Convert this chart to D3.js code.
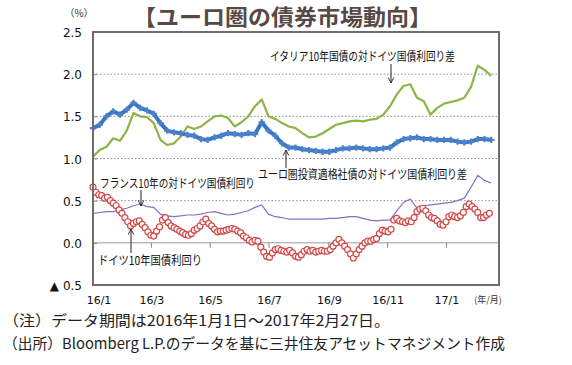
<!DOCTYPE html>
<html>
<head>
<meta charset="utf-8">
<script src="https://cdn.jsdelivr.net/npm/d3@7"></script>
<style>
  body { margin: 0; background: #fff; }
  svg { display: block; font-family: "Noto Sans CJK JP", "Noto Sans", sans-serif; }
</style>
</head>
<body>
<svg class="chart"></svg>
<script>
var dates = [
  '2016-01-01', '2016-01-08', '2016-01-15', '2016-01-22', '2016-01-29',
  '2016-02-05', '2016-02-12', '2016-02-19', '2016-02-26', '2016-03-04',
  '2016-03-11', '2016-03-18', '2016-03-25', '2016-04-01', '2016-04-08',
  '2016-04-15', '2016-04-22', '2016-04-29', '2016-05-06', '2016-05-13',
  '2016-05-20', '2016-05-27', '2016-06-03', '2016-06-10', '2016-06-17',
  '2016-06-24', '2016-07-01', '2016-07-08', '2016-07-15', '2016-07-22',
  '2016-07-29', '2016-08-05', '2016-08-12', '2016-08-19', '2016-08-26',
  '2016-09-02', '2016-09-09', '2016-09-16', '2016-09-23', '2016-09-30',
  '2016-10-07', '2016-10-14', '2016-10-21', '2016-10-28', '2016-11-04',
  '2016-11-11', '2016-11-18', '2016-11-25', '2016-12-02', '2016-12-09',
  '2016-12-16', '2016-12-23', '2016-12-30', '2017-01-06', '2017-01-13',
  '2017-01-20', '2017-01-27', '2017-02-03', '2017-02-10', '2017-02-17'
];

var italySpread = [
  1.02, 1.10, 1.14, 1.24, 1.21, 1.33, 1.54, 1.50, 1.49, 1.42,
  1.22, 1.16, 1.18, 1.26, 1.38, 1.35, 1.38, 1.44, 1.50, 1.51,
  1.48, 1.38, 1.43, 1.50, 1.62, 1.70, 1.50, 1.47, 1.42, 1.38,
  1.36, 1.30, 1.25, 1.26, 1.30, 1.35, 1.40, 1.42, 1.44, 1.45,
  1.44, 1.46, 1.47, 1.52, 1.62, 1.76, 1.86, 1.88, 1.72, 1.68,
  1.52, 1.60, 1.65, 1.67, 1.69, 1.72, 1.85, 2.10, 2.05, 1.98
];

var corpSpread = [
  1.36, 1.40, 1.50, 1.56, 1.52, 1.58, 1.66, 1.60, 1.57, 1.53,
  1.42, 1.33, 1.31, 1.30, 1.28, 1.27, 1.23, 1.22, 1.25, 1.27,
  1.30, 1.29, 1.28, 1.30, 1.29, 1.43, 1.33, 1.27, 1.18, 1.13,
  1.13, 1.11, 1.10, 1.09, 1.08, 1.08, 1.10, 1.12, 1.12, 1.13,
  1.12, 1.11, 1.11, 1.12, 1.13, 1.19, 1.23, 1.24, 1.25, 1.23,
  1.23, 1.22, 1.22, 1.22, 1.20, 1.19, 1.20, 1.23, 1.23, 1.22
];

var franceSpread = [
  0.35, 0.36, 0.37, 0.37, 0.39, 0.41, 0.44, 0.46, 0.43, 0.42,
  0.34, 0.32, 0.31, 0.32, 0.33, 0.33, 0.34, 0.36, 0.37, 0.35,
  0.33, 0.34, 0.36, 0.38, 0.42, 0.45, 0.34, 0.31, 0.30, 0.28,
  0.28, 0.28, 0.28, 0.28, 0.28, 0.29, 0.29, 0.30, 0.31, 0.31,
  0.29, 0.27, 0.26, 0.27, 0.27, 0.38, 0.48, 0.52, 0.41, 0.44,
  0.45, 0.46, 0.47, 0.48, 0.50, 0.53, 0.66, 0.80, 0.74, 0.71
];

// German 10y yield, sampled every 3 days from 2016-01-01
var bundYield = [
  0.66, 0.60, 0.57, 0.56, 0.53, 0.54, 0.50, 0.47, 0.44, 0.39,
  0.35, 0.30, 0.25, 0.20, 0.23, 0.25, 0.26, 0.22, 0.18, 0.13,
  0.09, 0.08, 0.14, 0.19, 0.27, 0.30, 0.24, 0.20, 0.18, 0.16,
  0.14, 0.12, 0.10, 0.09, 0.11, 0.15, 0.17, 0.20, 0.25, 0.28,
  0.23, 0.20, 0.16, 0.13, 0.14, 0.14, 0.15, 0.16, 0.17, 0.16,
  0.14, 0.12, 0.08, 0.06, 0.03, 0.01, 0.03, 0.02, -0.05, -0.11,
  -0.16, -0.17, -0.12, -0.08, -0.07, -0.09, -0.10, -0.11, -0.09, -0.12,
  -0.16, -0.17, -0.14, -0.10, -0.08, -0.10, -0.09, -0.11, -0.10, -0.09,
  -0.10, -0.10, -0.08, -0.04, 0.00, 0.04, 0.00, -0.04, -0.08, -0.13,
  -0.18, -0.13, -0.08, -0.04, 0.00, 0.02, 0.02, 0.04, 0.05, 0.11,
  0.15, 0.14, 0.13, 0.16, 0.27, 0.29, 0.26, 0.25, 0.24, 0.26,
  0.25, 0.30, 0.37, 0.40, 0.41, 0.38, 0.33, 0.30, 0.29, 0.26,
  0.22, 0.21, 0.25, 0.31, 0.33, 0.31, 0.30, 0.32, 0.36, 0.43,
  0.46, 0.43, 0.40, 0.36, 0.30, 0.30, 0.33, 0.35
];

var yTicks = [-0.5, 0, 0.5, 1.0, 1.5, 2.0, 2.5];
var xTickDates = ['2016-01-01', '2016-03-01', '2016-05-01', '2016-07-01',
                  '2016-09-01', '2016-11-01', '2017-01-01'];
var xTickLabels = ['16/1', '16/3', '16/5', '16/7', '16/9', '16/11', '17/1'];

var width = 572;
var height = 365;
var plot = {left: 93, right: 499, top: 32, bottom: 285};

var parse = d3.timeParse('%Y-%m-%d');
var start = parse('2016-01-01');

var x = d3.scaleTime()
    .domain([start, parse('2017-02-25')])
    .range([plot.left, plot.right]);
var y = d3.scaleLinear().domain([-0.5, 2.5]).range([plot.bottom, plot.top]);

var svg = d3.select('.chart').attr('width', width).attr('height', height);

// title
svg.append('text')
    .attr('x', 133)
    .attr('y', 25)
    .attr('textLength', 299)
    .attr('lengthAdjust', 'spacingAndGlyphs')
    .style('font-size', '22px')
    .style('font-weight', 'bold')
    .style('fill', '#574944')
    .text('【ユーロ圏の債券市場動向】');

svg.append('text')
    .attr('x', 79)
    .attr('y', 17)
    .attr('text-anchor', 'middle')
    .style('font-size', '10px')
    .style('fill', '#333')
    .text('（%）');

// gridlines
svg.append('g')
    .selectAll('line')
    .data(yTicks.filter(d => d > -0.5 && d < 2.5))
    .join('line')
    .attr('x1', plot.left)
    .attr('x2', plot.right)
    .attr('y1', d => y(d))
    .attr('y2', d => y(d))
    .style('stroke', d => d === 0 ? '#9a9a9a' : '#8c8c8c')
    .style('stroke-width', 1)
    .style('stroke-dasharray', d => d === 0 ? null : '1.5,2');

// y axis
var yAxis = d3.axisRight(y)
    .tickValues(yTicks)
    .tickSize(4)
    .tickFormat(d => '');
svg.append('g')
    .attr('transform', 'translate(' + plot.left + ',0)')
    .call(yAxis)
    .call(g => g.select('.domain').remove())
    .selectAll('line')
    .style('stroke', '#888');

svg.append('g')
    .selectAll('text')
    .data(yTicks)
    .join('text')
    .attr('x', 82)
    .attr('y', d => y(d) + 5)
    .attr('text-anchor', 'end')
    .style('font-family', '"DejaVu Sans", sans-serif')
    .style('font-size', '12px')
    .style('fill', '#111')
    .text(d => d < 0 ? '▲ ' + d3.format('.1f')(-d) : d3.format('.1f')(d));

// x ticks on the zero line
var xAxis = d3.axisBottom(x)
    .tickValues(xTickDates.map(parse))
    .tickSize(5)
    .tickFormat(d => '');
svg.append('g')
    .attr('transform', 'translate(0,' + y(0) + ')')
    .call(xAxis)
    .call(g => g.select('.domain').remove())
    .selectAll('line')
    .style('stroke', '#888');

svg.append('g')
    .selectAll('text')
    .data(xTickDates)
    .join('text')
    .attr('x', (d, i) => x(parse(d)) + (i === 0 ? 6 : 1))
    .attr('y', 304)
    .attr('text-anchor', 'middle')
    .style('font-family', '"DejaVu Sans", sans-serif')
    .style('font-size', '11px')
    .style('fill', '#111')
    .text((d, i) => xTickLabels[i]);

svg.append('text')
    .attr('x', 488)
    .attr('y', 303)
    .attr('text-anchor', 'middle')
    .style('font-size', '9px')
    .style('fill', '#333')
    .text('(年/月)');

// series
var rows = dates.map((d, i) => ({
  date: parse(d),
  italy: italySpread[i],
  corp: corpSpread[i],
  france: franceSpread[i]
}));

var bundDates = d3.timeDay.range(start, parse('2017-02-18'), 3);
var bundRows = bundYield.map((v, i) => ({date: bundDates[i], bund: v}));

function lineFor(key) {
  return d3.line().x(d => x(d.date)).y(d => y(d[key]));
}

svg.append('path')
    .datum(rows)
    .attr('d', lineFor('italy'))
    .style('fill', 'none')
    .style('stroke', '#8db446')
    .style('stroke-width', 2.2)
    .style('stroke-linejoin', 'round');

svg.append('path')
    .datum(rows)
    .attr('d', lineFor('corp'))
    .style('fill', 'none')
    .style('stroke', '#3b75c2')
    .style('stroke-width', 4)
    .style('stroke-linejoin', 'round');

svg.append('g')
    .selectAll('path')
    .data(rows)
    .join('path')
    .attr('transform', d => 'translate(' + x(d.date) + ',' + y(d.corp) + ')')
    .attr('d', d3.symbol(d3.symbolCross, 22))
    .style('fill', '#4a82cc');

svg.append('path')
    .datum(rows)
    .attr('d', lineFor('france'))
    .style('fill', 'none')
    .style('stroke', '#8a6dc6')
    .style('stroke-width', 1.2);

svg.append('g')
    .selectAll('circle')
    .data(bundRows)
    .join('circle')
    .attr('cx', d => x(d.date))
    .attr('cy', d => y(d.bund))
    .attr('r', 3)
    .style('fill', '#fff')
    .style('stroke', '#d24a48')
    .style('stroke-width', 1.2);

// plot frame
svg.append('rect')
    .attr('x', plot.left)
    .attr('y', plot.top)
    .attr('width', plot.right - plot.left)
    .attr('height', plot.bottom - plot.top)
    .style('fill', 'none')
    .style('stroke', '#6e6e6e')
    .style('stroke-width', 2);

// annotations
var notes = [
  {text: 'イタリア10年国債の対ドイツ国債利回り差', tx: 270, ty: 61, w: 185,
   ax: 391, y1: 64, y2: 83},
  {text: 'ユーロ圏投資適格社債の対ドイツ国債利回り差', tx: 258, ty: 179, w: 209,
   ax: 286, y1: 168, y2: 150},
  {text: 'フランス10年の対ドイツ国債利回り', tx: 100, ty: 188, w: 155,
   ax: 141, y1: 190, y2: 206},
  {text: 'ドイツ10年国債利回り', tx: 98, ty: 265, w: 104,
   ax: 131, y1: 253, y2: 229}
];

svg.append('defs').append('marker')
    .attr('id', 'head')
    .attr('viewBox', '0 0 10 10')
    .attr('refX', 9)
    .attr('refY', 5)
    .attr('markerWidth', 7)
    .attr('markerHeight', 7)
    .attr('orient', 'auto')
    .append('path')
    .attr('d', 'M1,1 L9,5 L1,9')
    .style('fill', 'none')
    .style('stroke', '#222')
    .style('stroke-width', 1.3);

var noteG = svg.append('g');
noteG.selectAll('line')
    .data(notes)
    .join('line')
    .attr('x1', d => d.ax)
    .attr('x2', d => d.ax)
    .attr('y1', d => d.y1)
    .attr('y2', d => d.y2)
    .attr('marker-end', 'url(#head)')
    .style('stroke', '#222')
    .style('stroke-width', 1);

noteG.selectAll('text')
    .data(notes)
    .join('text')
    .attr('x', d => d.tx)
    .attr('y', d => d.ty)
    .attr('textLength', d => d.w)
    .attr('lengthAdjust', 'spacingAndGlyphs')
    .style('font-size', '12px')
    .style('fill', '#111')
    .text(d => d.text);

// footnotes
var footnotes = [
  '（注）データ期間は2016年1月1日～2017年2月27日。',
  '（出所）Bloomberg L.P.のデータを基に三井住友アセットマネジメント作成'
];
var footWidths = [387, 502];
svg.append('g')
    .selectAll('text')
    .data(footnotes)
    .join('text')
    .attr('x', 3)
    .attr('y', (d, i) => 326 + i * 23)
    .attr('textLength', (d, i) => footWidths[i])
    .attr('lengthAdjust', 'spacingAndGlyphs')
    .style('font-size', '15px')
    .style('fill', '#222')
    .text(d => d);
</script>
</body>
</html>
